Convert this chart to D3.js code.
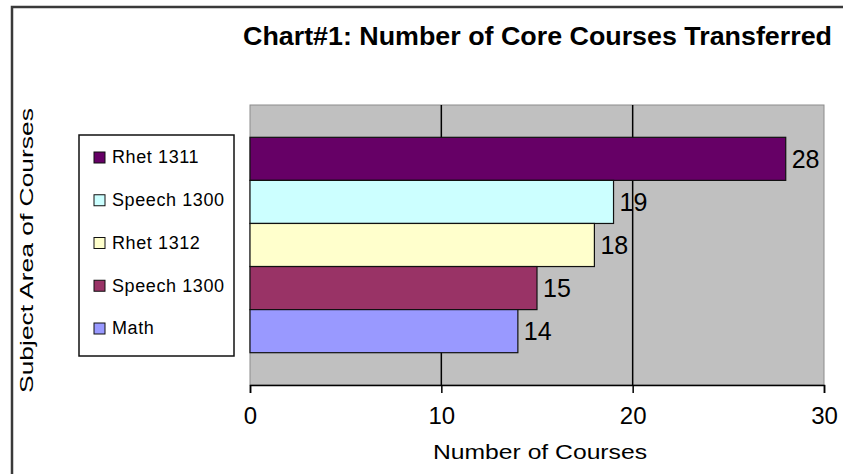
<!doctype html>
<html lang="en">
<head>
  <meta charset="UTF-8">
  <title>Chart#1</title>
  <style>
    html, body { margin: 0; padding: 0; background: #fff; }
    #app { width: 843px; height: 474px; }
    text { font-family: "Liberation Sans", Arial, sans-serif; fill: #000; }
  </style>
</head>
<body>
<div id="app"></div>
<script src="https://cdn.jsdelivr.net/npm/d3@7/dist/d3.min.js"></script>
<script>
  // data
  var courses = ['Rhet 1311', 'Speech 1300', 'Rhet 1312', 'Speech 1300', 'Math'];
  var counts = [28, 19, 18, 15, 14];
  var colors = ['#660066', '#ccffff', '#ffffcc', '#993366', '#9999ff'];
  var xTicks = [0, 10, 20, 30];

  var width = 843;
  var height = 474;
  var plot = {left: 250, right: 824, top: 105, bottom: 385};

  var svg = d3.select('#app')
              .append('svg')
              .attr('width', width)
              .attr('height', height);

  // outer frame
  svg.append('rect')
    .attr('x', 12)
    .attr('y', 7)
    .attr('width', width + 20)
    .attr('height', height + 20)
    .attr('fill', '#fff')
    .attr('stroke', '#3a3a3a')
    .attr('stroke-width', 2.5);

  svg.append('text')
    .attr('x', 243)
    .attr('y', 45)
    .attr('font-size', 25)
    .attr('font-weight', 'bold')
    .attr('textLength', 589)
    .attr('lengthAdjust', 'spacingAndGlyphs')
    .text('Chart#1: Number of Core Courses Transferred');

  var x = d3.scaleLinear()
            .domain([0, 30])
            .range([plot.left, plot.right]);

  var y = d3.scaleBand()
            .domain(d3.range(courses.length))
            .range([plot.top, plot.bottom])
            .paddingInner(0)
            .paddingOuter(0.75);

  // plot background
  svg.append('rect')
    .attr('x', plot.left)
    .attr('y', plot.top)
    .attr('width', plot.right - plot.left)
    .attr('height', plot.bottom - plot.top)
    .attr('fill', '#c0c0c0')
    .attr('stroke', '#8c8c8c')
    .attr('stroke-width', 1);

  // vertical gridlines
  svg.selectAll('line.grid')
    .data(xTicks.slice(1, -1))
    .enter()
    .append('line')
    .attr('class', 'grid')
    .attr('x1', d => x(d))
    .attr('x2', d => x(d))
    .attr('y1', plot.top)
    .attr('y2', plot.bottom)
    .attr('stroke', '#000')
    .attr('stroke-width', 1.5);

  // bars
  svg.selectAll('rect.bar')
    .data(counts)
    .enter()
    .append('rect')
    .attr('class', 'bar')
    .attr('x', x(0))
    .attr('y', (d, i) => y(i))
    .attr('width', d => x(d) - x(0))
    .attr('height', y.bandwidth())
    .attr('fill', (d, i) => colors[i])
    .attr('stroke', '#111')
    .attr('stroke-width', 1.2);

  svg.selectAll('text.value')
    .data(counts)
    .enter()
    .append('text')
    .attr('class', 'value')
    .attr('x', d => x(d) + 6)
    .attr('y', (d, i) => y(i) + y.bandwidth() / 2)
    .attr('dy', '0.36em')
    .attr('font-size', 25)
    .attr('fill', '#222')
    .text(d => d);

  // x axis
  var xAxis = d3.axisBottom(x)
                .tickValues(xTicks)
                .tickSize(8)
                .tickPadding(14);

  var gx = svg.append('g')
    .attr('transform', 'translate(0,' + plot.bottom + ')')
    .call(xAxis);
  gx.select('.domain')
    .attr('stroke', '#000')
    .attr('stroke-width', 1.5);
  gx.selectAll('.tick line')
    .attr('stroke', '#000')
    .attr('stroke-width', 1.5);
  gx.selectAll('.tick text')
    .attr('font-family', '"Liberation Sans", Arial, sans-serif')
    .attr('font-size', 24)
    .attr('fill', '#222');

  svg.append('text')
    .attr('x', 433)
    .attr('y', 459)
    .attr('font-size', 20)
    .attr('textLength', 214)
    .attr('lengthAdjust', 'spacingAndGlyphs')
    .text('Number of Courses');

  svg.append('text')
    .attr('transform', 'translate(33,393) rotate(-90)')
    .attr('font-size', 18)
    .attr('textLength', 285)
    .attr('lengthAdjust', 'spacingAndGlyphs')
    .attr('fill', '#222')
    .text('Subject Area of Courses');

  // legend
  var legend = svg.append('g');
  legend.append('rect')
    .attr('x', 79)
    .attr('y', 135)
    .attr('width', 155)
    .attr('height', 221)
    .attr('fill', '#fff')
    .attr('stroke', '#111')
    .attr('stroke-width', 1.5);

  var ly = d3.scalePoint()
             .domain(d3.range(courses.length))
             .range([157, 328]);

  var items = legend.selectAll('g.item')
    .data(courses)
    .enter()
    .append('g')
    .attr('class', 'item')
    .attr('transform', (d, i) => 'translate(0,' + ly(i) + ')');

  items.append('rect')
    .attr('x', 94)
    .attr('y', -5)
    .attr('width', 11)
    .attr('height', 11)
    .attr('fill', (d, i) => colors[i])
    .attr('stroke', '#111')
    .attr('stroke-width', 1);

  items.append('text')
    .attr('x', 112)
    .attr('dy', '0.36em')
    .attr('font-size', 18)
    .attr('letter-spacing', 0.6)
    .text(d => d);
</script>
</body>
</html>
